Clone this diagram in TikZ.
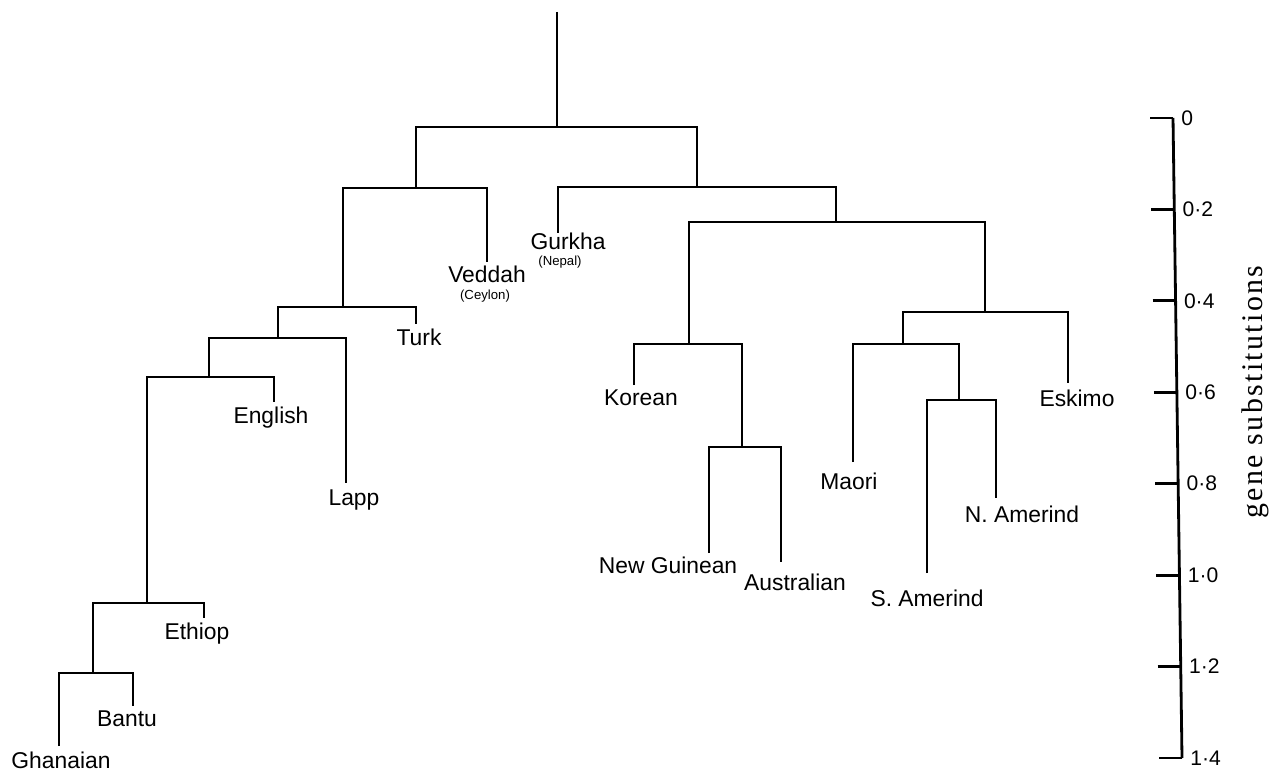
\documentclass[tikz,border=0pt]{standalone}
\usepackage{fontspec}
\setmainfont{Liberation Sans}
\newfontfamily\axisserif[LetterSpace=8]{Liberation Serif}
\usetikzlibrary{positioning}
\tikzstyle{branch} = [line width=1.6pt]
\tikzstyle{leaf} = [inner sep=0pt, anchor=mid, font=\fontsize{13}{15}\selectfont]
\tikzstyle{place} = [inner sep=0pt, anchor=mid, font=\fontsize{7.5}{9}\selectfont]
\tikzstyle{scalelab} = [inner sep=0pt, anchor=west, font=\fontsize{12}{14}\selectfont]

\begin{document}
\begin{tikzpicture}[x=0.02cm, y=-0.02cm, branch]
	  \useasboundingbox (0,0) rectangle (1270,773);

	  % branch points: stem x, bar y
	  \coordinate (top) at (557,12);
	  \coordinate (r) at (557,127);
	  \coordinate (a) at (416,188);
	  \coordinate (b) at (343,307);
	  \coordinate (c) at (278,338);
	  \coordinate (d) at (209,377);
	  \coordinate (e) at (147,603);
	  \coordinate (f) at (93,673);
	  \coordinate (g) at (697,187);
	  \coordinate (h) at (836,222);
	  \coordinate (i) at (689,344);
	  \coordinate (k) at (742,447);
	  \coordinate (j) at (985,312);
	  \coordinate (l) at (903,344);
	  \coordinate (m) at (959,400);

	  % leaf tips
	  \coordinate (t-ghanaian) at (59,746);
	  \coordinate (t-bantu) at (133,706);
	  \coordinate (t-ethiop) at (204,618);
	  \coordinate (t-english) at (274,402);
	  \coordinate (t-lapp) at (346,483);
	  \coordinate (t-turk) at (416,324);
	  \coordinate (t-veddah) at (487,262);
	  \coordinate (t-gurkha) at (558,233);
	  \coordinate (t-korean) at (634,385);
	  \coordinate (t-newguinean) at (709,553);
	  \coordinate (t-australian) at (781,562);
	  \coordinate (t-maori) at (853,462);
	  \coordinate (t-eskimo) at (1068,383);
	  \coordinate (t-samerind) at (927,573);
	  \coordinate (t-namerind) at (996,498);

	  % labels
	  \node[leaf] (ghanaian) at (61,764) {Ghanaian};
	  \node[leaf] (bantu) at (127,722) {Bantu};
	  \node[leaf] (ethiop) at (197,635) {Ethiop};
	  \node[leaf] (english) at (271,419) {English};
	  \node[leaf] (lapp) at (354,501) {Lapp};
	  \node[leaf] (turk) at (419,341) {Turk};
	  \node[leaf] (veddah) at (487,278) {Veddah};
	  \node[place] (ceylon) at (485,295) {(Ceylon)};
	  \node[leaf] (gurkha) at (568,245) {Gurkha};
	  \node[place] (nepal) at (560,261) {(Nepal)};
	  \node[leaf] (korean) at (641,401) {Korean};
	  \node[leaf] (newguinean) at (668,569) {New Guinean};
	  \node[leaf] (australian) at (795,586) {Australian};
	  \node[leaf] (maori) at (849,485) {Maori};
	  \node[leaf] (eskimo) at (1077,402) {Eskimo};
	  \node[leaf] (namerind) at (1022,518) {N. Amerind};
	  \node[leaf] (samerind) at (927,602) {S. Amerind};

	  % tree: left child up to the bar, across, down to the right child
	  \draw (top) -- (r);
	  \draw (a) |- (r) -| (g);
	  \draw (b) |- (a) -| (t-veddah);
	  \draw (c) |- (b) -| (t-turk);
	  \draw (d) |- (c) -| (t-lapp);
	  \draw (e) |- (d) -| (t-english);
	  \draw (f) |- (e) -| (t-ethiop);
	  \draw (t-ghanaian) |- (f) -| (t-bantu);
	  \draw (t-gurkha) |- (g) -| (h);
	  \draw (i) |- (h) -| (j);
	  \draw (t-korean) |- (i) -| (k);
	  \draw (t-newguinean) |- (k) -| (t-australian);
	  \draw (l) |- (j) -| (t-eskimo);
	  \draw (t-maori) |- (l) -| (m);
	  \draw (t-samerind) |- (m) -| (t-namerind);

	  % scale
	  \coordinate (axtop) at (1173,118);
	  \coordinate (axbot) at (1182,758);
	  \draw (axtop) -- (axbot);
	  \foreach \lab [count=\n from 0] in {0,0·2,0·4,0·6,0·8,1·0,1·2,1·4} {
	    \pgfmathsetmacro\ty{118+91.43*\n}
	    \pgfmathsetmacro\tx{1173+9*\n/7}
	    \draw (\tx-23,\ty) -- (\tx,\ty) node[scalelab, xshift=4pt] (tick\n) {\lab};
	  }
	  \node[rotate=90, inner sep=0pt, font=\axisserif\fontsize{17}{20}\selectfont] (units) at (1255,392) {gene substitutions};
	\end{tikzpicture}
\end{document}
